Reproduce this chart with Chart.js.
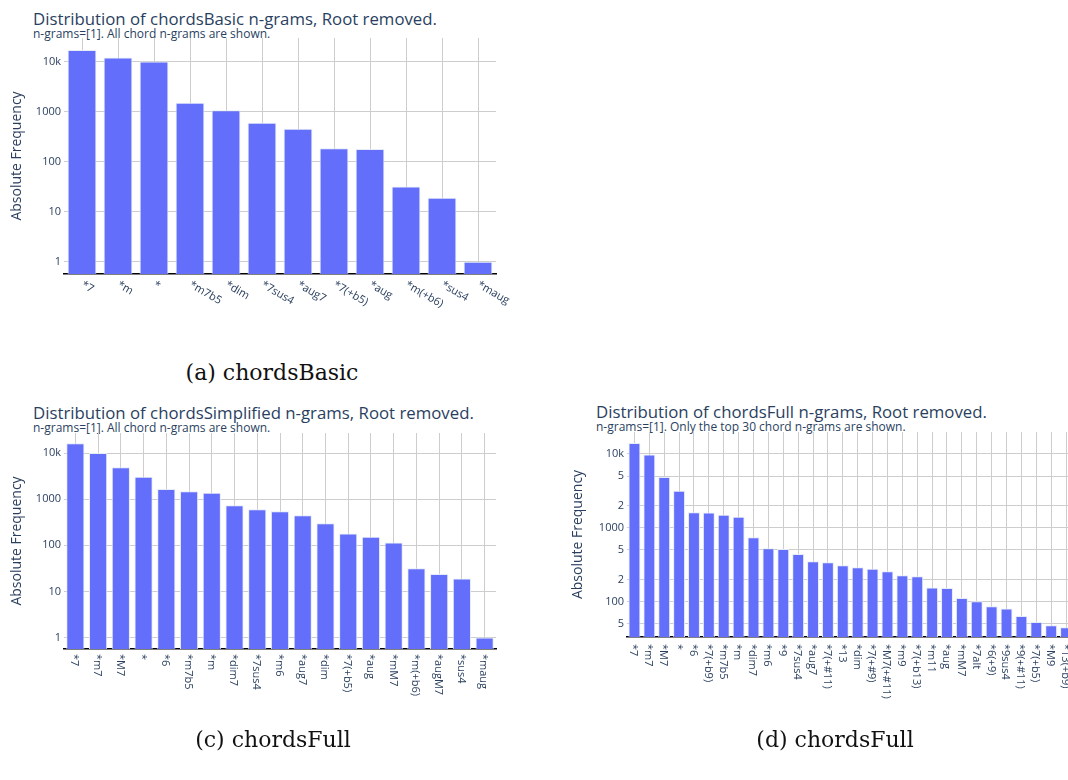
<!DOCTYPE html>
<html>
<head>
<meta charset="utf-8">
<script src="https://cdn.jsdelivr.net/npm/chart.js@4"></script>
<style>
  html, body { margin: 0; padding: 0; overflow: hidden; background: #fff; }
  body { width: 1068px; height: 780px; position: relative; }
  canvas { position: absolute; }
  .title { position: absolute; font-family: "Open Sans"; color: #2a3f5f; white-space: nowrap; line-height: 1; }
  .title.main { font-size: 16.8px; }
  .title.sub { font-size: 12px; }
  .caption { position: absolute; width: 300px; text-align: center; font-family: "DejaVu Serif"; font-size: 22px; line-height: 1; color: #111; }
</style>
</head>
<body>

<div class="title main" style="left:33px; top:11px">Distribution of chordsBasic n-grams, Root removed.</div>
<div class="title sub" style="left:33px; top:28px">n-grams=[1]. All chord n-grams are shown.</div>
<canvas id="basicChart" width="540" height="330" style="left:0; top:0"></canvas>
<div class="caption" style="left:122px; top:362px">(a) chordsBasic</div>

<div class="title main" style="left:33px; top:405px">Distribution of chordsSimplified n-grams, Root removed.</div>
<div class="title sub" style="left:33px; top:422px">n-grams=[1]. All chord n-grams are shown.</div>
<canvas id="simplifiedChart" width="540" height="330" style="left:0; top:400px"></canvas>
<div class="caption" style="left:123px; top:729px">(c) chordsFull</div>

<div class="title main" style="left:596px; top:404px">Distribution of chordsFull n-grams, Root removed.</div>
<div class="title sub" style="left:596px; top:421px">n-grams=[1]. Only the top 30 chord n-grams are shown.</div>
<canvas id="fullChart" width="520" height="330" style="left:565px; top:400px"></canvas>
<div class="caption" style="left:685px; top:729px">(d) chordsFull</div>

<script>
// chord n-gram counts, root removed
const basicLabels = ['*7', '*m', '*', '*m7b5', '*dim', '*7sus4', '*aug7', '*7(+b5)', '*aug', '*m(+b6)', '*sus4', '*maug'];
const basicCounts = [17100, 12200, 10100, 1510, 1070, 603, 457, 185, 180, 32, 19, 1];

const simplifiedLabels = ['*7', '*m7', '*M7', '*', '*6', '*m7b5', '*m', '*dim7', '*7sus4', '*m6', '*aug7', '*dim',
  '*7(+b5)', '*aug', '*mM7', '*m(+b6)', '*augM7', '*sus4', '*maug'];
const simplifiedCounts = [16500, 10100, 4960, 3100, 1675, 1494, 1390, 741, 607, 549, 449, 301, 182, 154, 115, 32, 24, 19, 1];

const fullLabels = ['*7', '*m7', '*M7', '*', '*6', '*7(+b9)', '*m7b5', '*m', '*dim7', '*m6', '*9', '*7sus4', '*aug7',
  '*7(+#11)', '*13', '*dim', '*7(+#9)', '*M7(+#11)', '*m9', '*7(+b13)', '*m11', '*aug', '*mM7', '*7alt', '*6(+9)',
  '*9sus4', '*9(+#11)', '*7(+b5)', '*M9', '*13(+b9)'];
const fullCounts = [13960, 9780, 4850, 3160, 1620, 1610, 1500, 1410, 745, 527, 516, 441, 353, 341, 312, 293, 279, 258,
  228, 221, 155, 153, 112, 101, 87, 81, 64, 53, 48, 45];

// log axis ticks
const decadeTicks = [1, 10, 100, 1000, 10000];
const decadeTickText = ['1', '10', '100', '1000', '10k'];
const fullTicks = [50, 100, 200, 500, 1000, 2000, 5000, 10000];
const fullTickText = ['5', '100', '2', '5', '1000', '2', '5', '10k'];

const INK = '#2a3f5f';
const GRID = '#cdcdcd';

// category labels hang from the tick, rotated clockwise
const hangingLabels = {
  id: 'hangingLabels',
  afterDraw(chart, args, opts) {
    const x = chart.scales.x;
    const ctx = chart.ctx;
    ctx.save();
    ctx.font = '11px "Open Sans"';
    ctx.fillStyle = INK;
    ctx.textAlign = 'left';
    ctx.textBaseline = 'middle';
    chart.data.labels.forEach((label, i) => {
      ctx.save();
      ctx.translate(x.getPixelForValue(i) + opts.dx, x.top + opts.dy);
      ctx.rotate(opts.angle * Math.PI / 180);
      ctx.fillText(label, 0, 0);
      ctx.restore();
    });
    ctx.restore();
  }
};

function makeChart(id, labels, counts, ticks, tickText, o) {
  return new Chart(document.getElementById(id), {
    type: 'bar',
    data: {
      labels: labels,
      datasets: [{
        data: counts,
        backgroundColor: '#636efa',
        borderColor: '#e5ecf6',
        borderWidth: 1,
        categoryPercentage: 0.8,
        barPercentage: 1.0
      }]
    },
    options: {
      responsive: false,
      animation: false,
      devicePixelRatio: 1,
      layout: { padding: { top: o.padTop, right: o.padRight, left: 0, bottom: 0 } },
      plugins: {
        legend: { display: false },
        tooltip: { enabled: false },
        hangingLabels: { angle: o.angle, dx: o.dx, dy: o.dy }
      },
      scales: {
        x: {
          type: 'category',
          ticks: { display: false },
          grid: { color: GRID, offset: false, drawTicks: false },
          border: { display: true, color: '#000', width: 1.5 },
          afterFit(scale) { scale.height = o.xHeight; }
        },
        y: {
          type: 'logarithmic',
          min: o.yMin,
          max: o.yMax,
          bounds: 'data',
          afterBuildTicks(scale) { scale.ticks = ticks.map(v => ({ value: v })); },
          afterFit(scale) { scale.width = o.yWidth; },
          ticks: {
            color: INK,
            padding: 3,
            font: { family: 'Open Sans', size: 11 },
            callback: (v, i) => tickText[i]
          },
          grid: { color: GRID, drawTicks: false },
          border: { display: false },
          title: {
            display: true,
            text: 'Absolute Frequency',
            color: INK,
            font: { family: 'Open Sans', size: 14 },
            padding: { top: o.titlePad, bottom: 0 }
          }
        }
      }
    },
    plugins: [hangingLabels]
  });
}

makeChart('basicChart', basicLabels, basicCounts, decadeTicks, decadeTickText, {
  yMin: 0.568, yMax: 29800, padTop: 38, padRight: 44, yWidth: 64, xHeight: 56, titlePad: 9,
  angle: 30, dx: 0, dy: 10
});

makeChart('simplifiedChart', simplifiedLabels, simplifiedCounts, decadeTicks, decadeTickText, {
  yMin: 0.56, yMax: 27600, padTop: 33, padRight: 44, yWidth: 64, xHeight: 81, titlePad: 9,
  angle: 90, dx: -1, dy: 5
});

makeChart('fullChart', fullLabels, fullCounts, fullTicks, fullTickText, {
  yMin: 33.3, yMax: 19700, padTop: 32, padRight: 11.5, yWidth: 62, xHeight: 93, titlePad: 5,
  angle: 90, dx: -1, dy: 7
});
</script>
</body>
</html>
